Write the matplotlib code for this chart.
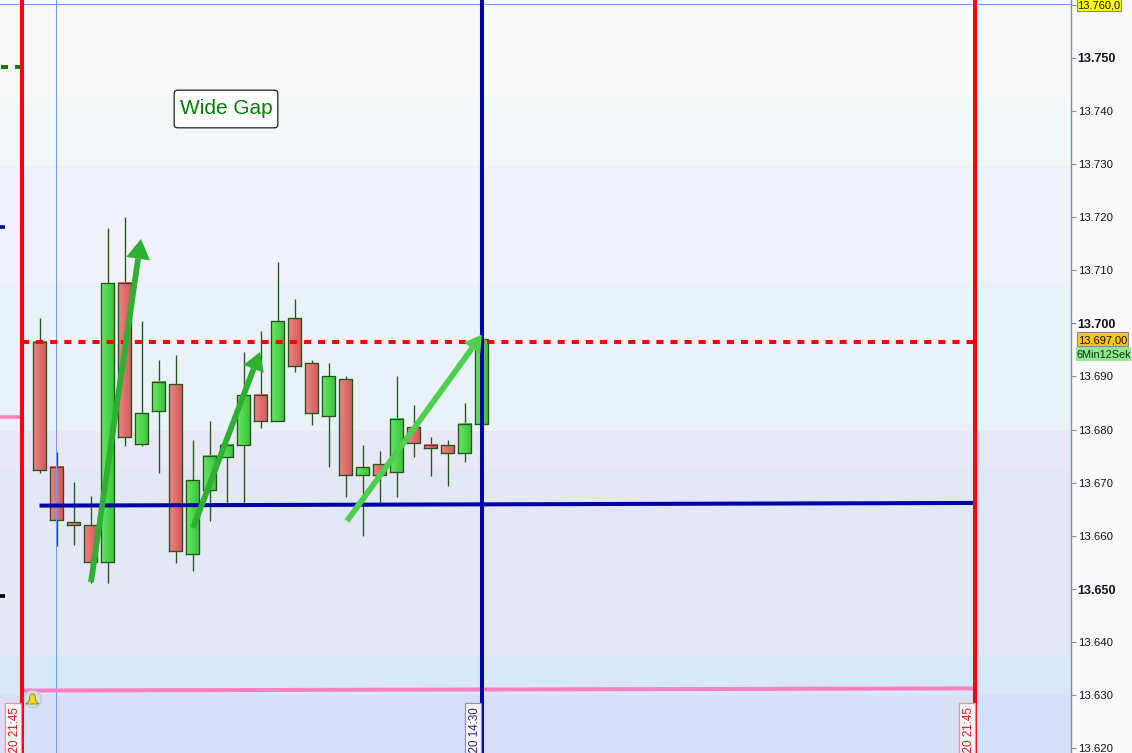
import numpy as np
import matplotlib
matplotlib.use("Agg")
import matplotlib.pyplot as plt
from matplotlib.patches import FancyBboxPatch, Polygon, Circle
from matplotlib.colors import LinearSegmentedColormap

plt.rcParams['font.family'] = ['Liberation Sans', 'DejaVu Sans']

# candles: body top, body bottom, wick top, wick bottom
body_top = [13696.5, 13673.0, 13662.6, 13662.0, 13707.6, 13707.6, 13683.1, 13689.0, 13688.6,
            13670.5, 13675.0, 13677.1, 13686.5, 13686.5, 13700.4, 13701.0, 13692.5, 13690.1,
            13689.5, 13673.0, 13673.5, 13682.0, 13680.5, 13677.1, 13677.1, 13681.1, 13697.0]
body_bot = [13672.4, 13663.0, 13662.1, 13655.1, 13655.1, 13678.6, 13677.3, 13683.5, 13657.2,
            13656.6, 13668.6, 13674.8, 13677.1, 13681.6, 13681.6, 13692.0, 13683.1, 13682.6,
            13671.5, 13671.5, 13671.5, 13672.0, 13677.5, 13676.5, 13675.6, 13675.6, 13681.1]
wick_top = [13701.0, 13675.8, 13670.1, 13667.5, 13717.9, 13720.0, 13700.4, 13693.1, 13694.0,
            13678.1, 13681.6, 13677.1, 13694.6, 13698.6, 13711.5, 13704.6, 13693.1, 13692.5,
            13690.1, 13677.1, 13676.0, 13690.1, 13684.6, 13678.6, 13678.1, 13685.0, 13697.0]
wick_bot = [13671.8, 13658.1, 13658.3, 13651.1, 13651.1, 13676.9, 13676.9, 13671.8, 13654.9,
            13653.4, 13662.8, 13666.2, 13666.2, 13680.3, 13681.6, 13690.8, 13680.9, 13673.0,
            13667.3, 13660.0, 13666.2, 13667.3, 13674.8, 13671.3, 13669.4, 13673.9, 13681.1]
up = [0, 0, 0, 0, 1, 0, 1, 1, 0, 1, 1, 1, 1, 0, 1, 0, 0, 1, 0, 1, 0, 1, 0, 0, 0, 1, 1]

# background bands: lower price, upper price, colour
band_low = [13742.6, 13729.6, 13707.6, 13679.7, 13672.6, 13637.6, 13630.1, 13610.0]
band_high = [13770.0, 13742.6, 13729.6, 13707.6, 13679.7, 13672.6, 13637.6, 13630.1]
band_col = ['#f9f9f9', '#f2f8f8', '#f0f1fa', '#e9f1f9', '#e9e8f7', '#e2e8f6', '#d8e8f8', '#d8dff7']

# drawn objects
arrow_x0 = [3.03, 9.03, 18.09]
arrow_y0 = [13651.3, 13661.5, 13662.8]
arrow_x1 = [5.97, 12.97, 26.03]
arrow_y1 = [13715.9, 13694.6, 13697.9]
arrow_col = ['#2fb032', '#2fb032', '#4fcf50']
head_len = [20, 18, 17]
head_half = [12, 11, 10]

blue_x = [0, 55.03]
blue_y = [13665.7, 13666.2]
pink_x = [-1.03, 55.03]
pink_y = [13630.9, 13631.3]
stop_x = [-1.03, 55.03]
stop_y = [13696.4, 13696.4]

tick_vals = list(range(13620, 13760, 10))
bold_vals = [13650, 13700, 13750]

W, H = 1132, 753
PX_PER_PT = 5.314
Y_TOP = 13760 + 4.5 / PX_PER_PT
Y_BOT = 13760 - 748.5 / PX_PER_PT
AX_W = 1071


def ix(px):
    return (px - 39.5) / 17


fig = plt.figure(figsize=(W / 100, H / 100), dpi=100, facecolor='#fafafa')
ax = fig.add_axes([0, 0, AX_W / W, 1])
ax.set_facecolor('#f9f9f9')

for lo, hi, c in zip(band_low, band_high, band_col):
    ax.axhspan(lo, hi, color=c, lw=0, zorder=0)

red_map = LinearSegmentedColormap.from_list('r', ['#f58282', '#cb5a5a'])
green_map = LinearSegmentedColormap.from_list('g', ['#66ea66', '#3abf3a'])
grad = np.linspace(0, 1, 16).reshape(1, -1)
edge = '#27541a'
bw = 0.40

for i in range(len(up)):
    ax.plot([i, i], [wick_bot[i], wick_top[i]], color=edge, lw=0.95, zorder=3, solid_capstyle='butt')
    ax.imshow(grad, cmap=green_map if up[i] else red_map, aspect='auto', zorder=4,
              extent=[i - bw, i + bw, body_bot[i], body_top[i]])
    ax.plot([i - bw, i + bw, i + bw, i - bw, i - bw],
            [body_bot[i], body_bot[i], body_top[i], body_top[i], body_bot[i]],
            color=edge, lw=0.95, zorder=5)

# thin crosshair
ax.axvline(0.98, color='#6f9cff', lw=0.75, zorder=6)
ax.axhline(13760.1, color='#6f9cff', lw=0.75, zorder=6)

# horizontal lines
ax.plot(blue_x, blue_y, color='#0000a8', lw=2.9, zorder=7, solid_capstyle='butt')
ax.plot(pink_x, pink_y, color='#ff80c0', lw=2.9, zorder=7, solid_capstyle='butt')
ax.plot(stop_x, stop_y, color='#ff0000', lw=2.9, zorder=7, linestyle=(0, (1.75, 1.75)),
        dash_capstyle='butt')

# vertical lines
ax.axvline(-1.03, color='#ff0000', lw=2.9, zorder=8)
ax.axvline(26, color='#0000a8', lw=2.9, zorder=8)
ax.axvline(55.03, color='#ff0000', lw=2.9, zorder=8)

# marks on the left edge
ax.plot([ix(1), ix(22)], [13748.2, 13748.2], color='#008000', lw=2.9, linestyle=(0, (1.75, 1.75)),
        dash_capstyle='butt', zorder=7)
ax.plot([ix(0), ix(5)], [13718.1, 13718.1], color='#0000a8', lw=2.6, zorder=7, solid_capstyle='butt')
ax.plot([ix(0), ix(21)], [13682.3, 13682.3], color='#ff80c0', lw=2.6, zorder=7, solid_capstyle='butt')
ax.plot([ix(0), ix(5)], [13648.7, 13648.7], color='#000000', lw=2.6, zorder=7, solid_capstyle='butt')

ax.set_xlim(ix(0), ix(AX_W))
ax.set_ylim(Y_BOT, Y_TOP)

# arrows, head sized in pixels
for x0, y0, x1, y1, c, hl, hh in zip(arrow_x0, arrow_y0, arrow_x1, arrow_y1, arrow_col, head_len, head_half):
    p0, p1 = ax.transData.transform([(x0, y0), (x1, y1)])
    d = (p1 - p0) / np.hypot(*(p1 - p0))
    n = np.array([-d[1], d[0]])
    base = p1 - d * hl
    ax.add_patch(Polygon([p0 + n * 2.9, base + n * 2.9, base - n * 2.9, p0 - n * 2.9], closed=True,
                         transform=None, facecolor=c, edgecolor='none', zorder=9))
    ax.add_patch(Polygon([p1, base + n * hh, base - n * hh], closed=True,
                         transform=None, facecolor=c, edgecolor='none', zorder=9))

for s in ['top', 'left', 'bottom']:
    ax.spines[s].set_visible(False)
ax.spines['right'].set_color('#7f8f9f')
ax.spines['right'].set_linewidth(1.0)
ax.set_xticks([])
ax.yaxis.tick_right()
ax.set_yticks(tick_vals + [13760])
ax.set_yticklabels([f"{v // 1000}.{v % 1000:03d}" for v in tick_vals] + [''])
ax.tick_params(axis='y', length=3.6, width=0.8, color='#7f8f9f', pad=1.2, labelsize=8.2, labelcolor='#101020')
for lab, v in zip(ax.get_yticklabels(), tick_vals + [13760]):
    if v in bold_vals:
        lab.set_fontweight('bold')
        lab.set_fontsize(9)


def fx(px):
    return px / W


def fy(px):
    return 1 - px / H


# price boxes in the margin
def price_box(x0, x1, y0, y1, col, txt):
    fig.patches.append(plt.Rectangle((fx(x0), fy(y1)), (x1 - x0) / W, (y1 - y0) / H, transform=fig.transFigure,
                                     facecolor=col, edgecolor='#808890', lw=0.8, zorder=10))
    fig.text(fx((x0 + x1) / 2), fy((y0 + y1) / 2 + 0.5), txt, ha='center', va='center_baseline',
             fontsize=8.0, color='#101010', zorder=11)


price_box(1077, 1121, -2, 11, '#ffff00', '13.760,0')
price_box(1077, 1128, 332, 346, '#ffc800', '13.697,00')
fig.patches.append(plt.Rectangle((fx(1076), fy(361)), 55 / W, 14 / H, transform=fig.transFigure,
                                 facecolor='#90e890', edgecolor='none', zorder=10))
fig.text(fx(1103.5), fy(354.5), '6Min12Sek', ha='center', va='center_baseline', fontsize=7.8,
         color='#103010', zorder=11)

# Wide Gap box
fig.patches.append(FancyBboxPatch((fx(176), fy(126)), 100 / W, 34 / H, transform=fig.transFigure,
                                  boxstyle='round,pad=0.0016,rounding_size=0.003',
                                  facecolor='#ffffff', edgecolor='#202020', lw=0.9, zorder=10,
                                  mutation_aspect=W / H))
fig.text(fx(226), fy(108.5), 'Wide Gap', ha='center', va='center', fontsize=15, color='#008000', zorder=11)


# rotated time labels, cut off by the lower edge of the picture as in the original
def time_label(xr, txt, col, ec):
    fig.patches.append(plt.Rectangle((fx(xr - 16), 0), 16 / W, 50 / H, transform=fig.transFigure,
                                     facecolor='#fbfbfb', edgecolor=ec, lw=0.9, zorder=12))
    fig.text(fx(xr - 6.5), fy(707), txt, rotation=90, ha='center', va='top', fontsize=8.4,
             color=col, zorder=13)


time_label(21, '020 21:45', '#e01010', '#f09090')
time_label(481, '020 14:30', '#202090', '#9090c8')
time_label(975, '020 21:45', '#e01010', '#f09090')

# alert bell
fig.patches.append(Circle((32.7, H - 699), 8.5, transform=None, facecolor='#cfe2e8', edgecolor='#a8c4cc', lw=0.6, zorder=14))
fig.patches.append(Polygon(np.column_stack(([26, 29, 30, 31, 34, 35, 36, 39, 26],
                                            H - np.array([704, 701, 696, 694, 694, 696, 701, 704, 704]))),
                           closed=True, transform=None, facecolor='#f2d820', edgecolor='#8f7a10', lw=0.6, zorder=15))

fig.savefig('out.png', dpi=100, facecolor=fig.get_facecolor())
